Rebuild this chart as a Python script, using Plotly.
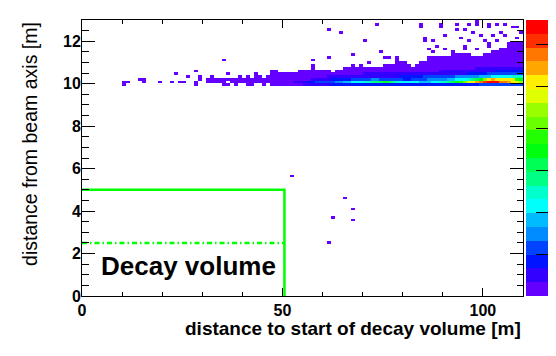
import plotly.graph_objects as go

# histogram binning (1 m in x, 0.13 m in y)
X_BIN = 1.0
Y_BIN = 0.13
N_X = 110
N_Y = 100
Z_MAX = 65.8

# ROOT "pretty" palette, 20 contour levels
palette = [
    "#6300ff", "#3300ff", "#0014ff", "#0044ff", "#008bff",
    "#00bbff", "#00fffb", "#00ffcc", "#00ff85", "#00ff55",
    "#00ff0e", "#22ff00", "#69ff00", "#99ff00", "#e0ff00",
    "#ffee00", "#ffa700", "#ff7700", "#ff3000", "#ff0000",
]

# main band: top row of the filled region for x bins 34..109 (bottom row 76)
BAND_START = 34
band_bottom = 76
band_top = [
    78, 78, 80, 78, 79, 79, 78, 79, 79, 80,
    79, 79, 79, 81, 81, 80, 80, 80, 80, 80,
    81, 81, 81, 82, 81, 81, 81, 81, 80, 81,
    81, 82, 82, 83, 82, 83, 82, 82, 82, 82,
    82, 83, 83, 83, 85, 84, 84, 83, 82, 83,
    84, 84, 86, 86, 86, 86, 86, 86, 87, 87,
    87, 87, 87, 86, 86, 86, 87, 87, 88, 88,
    89, 89, 91, 91, 91, 91,
]
# empty bins inside the band (x bin, y bin)
gap_x = [34, 37, 40, 43, 44, 36, 36, 38, 39, 42, 45, 46]
gap_y = [76, 76, 76, 76, 76, 79, 77, 79, 76, 79, 79, 76]

# isolated single-entry bins
single_x = [
    10, 10, 11, 14, 15, 15, 19, 22, 23, 24, 25, 26, 28, 28, 28, 29, 29,
    31, 31, 32, 32, 32, 33, 33,
    35, 57, 57, 61, 61, 64, 67, 70, 71, 73, 74, 75, 76, 78,
    84, 84, 85, 85, 86, 87, 87, 88, 89, 89, 90, 90, 92, 93, 93, 94,
    95, 95, 95, 96, 96, 97, 98, 98, 98, 99, 100, 101, 101, 101, 101,
    102, 103, 103, 104, 105, 105, 107, 108, 108, 109,
    52, 65, 67, 62, 67, 61,
]
single_y = [
    76, 77, 77, 78, 77, 78, 77, 77, 80, 77, 77, 79, 76, 77, 81, 78, 79,
    77, 78, 77, 78, 79, 77, 78,
    85, 83, 85, 86, 96, 95, 87, 92, 84, 98, 88, 86, 86, 86,
    97, 98, 92, 93, 89, 88, 92, 90, 97, 98, 89, 94, 88, 96, 98, 93,
    89, 90, 96, 92, 98, 95, 89, 98, 99, 94, 92, 90, 91, 97, 98,
    94, 92, 98, 95, 94, 98, 97, 93, 97, 95,
    43, 35, 31, 28, 27, 19,
]

# bin contents in the dense core, per y bin, starting at the given x bin
core_rows = [76, 77, 78, 79, 80, 81, 82]
core_starts = [50, 50, 50, 50, 50, 86, 96]
core_r76 = [
    2, 2, 3, 3, 3, 4, 4, 5, 6, 6, 6, 6, 7, 7, 7,
    8, 8, 8, 8, 8, 8, 8, 8, 8, 8, 8, 8, 8, 8, 8, 8, 8, 8, 8, 8,
    9, 9, 9, 9, 9, 9, 9, 9, 9, 9, 9, 9, 9, 9,
    12, 12, 12, 12, 12, 12, 12, 12, 10, 10, 10,
]
core_r77 = [
    2, 3, 3, 4, 5, 6, 8, 9, 11, 11, 11, 12, 12, 14, 15, 17,
    19, 21, 22, 23, 24, 25, 27, 29, 31, 33, 31, 28, 26,
    23, 22, 21, 21, 20, 19, 18, 19, 21, 23, 25, 26, 28, 30,
    34, 38, 42, 47, 50, 53, 57, 61, 64, 65, 63, 59, 57, 55, 52, 49, 43,
]
core_r78 = [
    1, 1, 2, 2, 2, 3, 3, 4, 5, 5, 6, 6, 7, 7, 8, 8, 9, 10, 10,
    11, 12, 13, 14, 14, 13, 12, 11, 10, 10, 10, 9, 9, 10, 11, 12,
    13, 14, 15, 15, 16, 16, 17, 19, 20, 21, 23, 26, 29, 32, 34,
    46, 50, 53, 52, 50, 52, 51, 48, 38, 36,
]
core_r79 = [
    1, 1, 1, 2, 2, 2, 2, 3, 3, 3, 3, 4, 4, 4, 4, 5, 5, 5, 5, 5, 5,
    5, 6, 6, 6, 6, 6, 6, 6, 7, 7, 7, 8, 8, 9,
    10, 10, 11, 11, 11, 12, 12, 13, 14, 14, 15, 15, 15, 16, 17, 18,
    19, 20, 21, 22, 22, 23, 24, 25, 24,
]
core_r80 = [
    1, 1, 1, 1, 1, 1, 1, 2, 2, 2, 2, 2, 2, 2, 3, 3, 3, 3, 3, 3,
    4, 4, 4, 4, 4, 4, 4, 4, 5, 5, 5, 5, 5, 5, 5, 5, 5, 6, 6, 6,
    6, 6, 6, 6, 6, 6, 7, 8, 8, 9, 9, 10, 10, 11, 11, 11, 12, 12, 12, 12,
]
core_r81 = [3, 3, 3, 4, 4, 4, 4, 5, 5, 5, 5, 6, 6, 6, 6, 6, 6, 7, 7, 7, 7, 7, 7, 7]
core_r82 = [3, 3, 4, 4, 4, 4, 5, 5, 5, 5, 6, 6, 6, 6]
core_values = [core_r76, core_r77, core_r78, core_r79, core_r80, core_r81, core_r82]

# "Decay volume" outline
box_x = [0, 50.5, 50.5]
box_y = [5, 5, 0]
mid_x = [0, 50.5]
mid_y = [2.5, 2.5]

# --- fill histogram -----------------------------------------------------------
z = [[None] * N_X for _ in range(N_Y)]
for i, top in enumerate(band_top):
    for r in range(band_bottom, top + 1):
        z[r][BAND_START + i] = 1
for c, r in zip(gap_x, gap_y):
    z[r][c] = None
for c, r in zip(single_x, single_y):
    z[r][c] = 1
for r, start, vals in zip(core_rows, core_starts, core_values):
    for i, v in enumerate(vals):
        if z[r][start + i] is not None:
            z[r][start + i] = v

colorscale = []
for k, col in enumerate(palette):
    colorscale.append([k / len(palette), col])
    colorscale.append([(k + 1) / len(palette), col])

FONT = "Liberation Sans"

fig = go.Figure()
fig.add_trace(go.Heatmap(
    z=z, x0=X_BIN / 2, dx=X_BIN, y0=Y_BIN / 2, dy=Y_BIN,
    zmin=0, zmax=Z_MAX, colorscale=colorscale, zsmooth=False,
    hoverongaps=False,
    colorbar=dict(
        x=1.0068, xanchor="left", xpad=0, ypad=0, y=0.5, yanchor="middle",
        len=1, thickness=22, outlinewidth=0,
        ticks="inside", ticklen=12, tickwidth=1, tickcolor="black",
        tick0=0, dtick=10, showticklabels=False,
    ),
))
fig.add_trace(go.Scatter(x=box_x, y=box_y, mode="lines",
                         line=dict(color="#00ff00", width=2.5), showlegend=False))
fig.add_trace(go.Scatter(x=mid_x, y=mid_y, mode="lines",
                         line=dict(color="#00ff00", width=2.5, dash="5px,3px,1.5px,3px"),
                         showlegend=False))

fig.add_annotation(x=26.6, y=1.42, xref="x", yref="y", text="<b>Decay volume</b>",
                   showarrow=False, font=dict(family=FONT, size=26, color="black"))
fig.add_annotation(x=1, y=-0.116, xref="paper", yref="paper", xanchor="right", yanchor="middle",
                   text="<b>distance to start of decay volume [m]</b>", showarrow=False,
                   font=dict(family=FONT, size=19, color="black"))
fig.add_annotation(x=-0.118, y=1, xref="paper", yref="paper", xanchor="center", yanchor="top",
                   text="distance from beam axis [m]", textangle=-90, showarrow=False,
                   font=dict(family=FONT, size=19.5, color="black"))

# right edge of the palette axis
fig.add_shape(type="line", xref="paper", yref="paper", x0=1.0556, x1=1.0556, y0=0, y1=1,
              line=dict(color="black", width=1))

axis_common = dict(
    showgrid=False, zeroline=False, showline=True, linecolor="black", linewidth=1,
    mirror="ticks", ticks="inside", tickwidth=1, tickcolor="black", automargin=False,
    tickfont=dict(family=FONT, size=16, color="black", weight="bold"),
)
fig.update_xaxes(range=[0, 110], tick0=0, dtick=50, ticklen=8, ticklabelstandoff=0,
                 minor=dict(dtick=10, ticks="inside", ticklen=4, tickcolor="black"),
                 **axis_common)
fig.update_yaxes(range=[0, 13], tick0=0, dtick=2, ticklen=13, ticklabelstandoff=-3,
                 minor=dict(dtick=0.5, ticks="inside", ticklen=6.5, tickcolor="black"),
                 **axis_common)

# the page body adds 8 px around the figure, so the figure is 540 x 340
fig.update_layout(
    width=540, height=340, autosize=False,
    margin=dict(l=74, r=25, t=12, b=52, autoexpand=False),
    paper_bgcolor="white", plot_bgcolor="white",
    showlegend=False,
)

fig.write_html("out.html")
